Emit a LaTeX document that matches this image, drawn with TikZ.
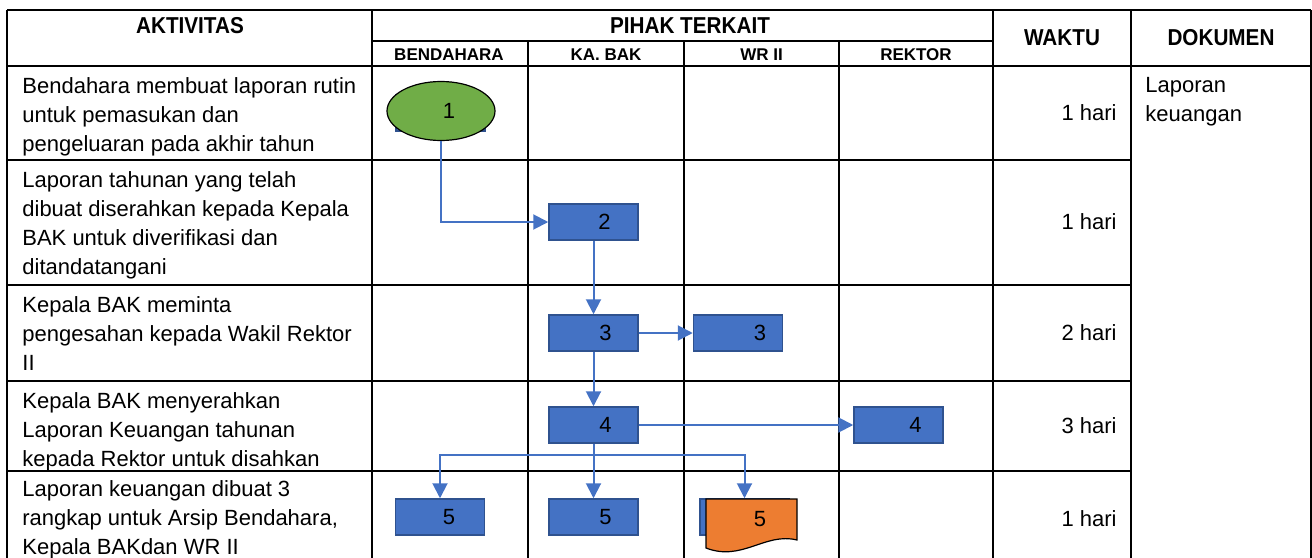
\documentclass[tikz,border=0pt]{standalone}
\usepackage{fontspec}
\setmainfont{Liberation Sans}
\newfontfamily\judul[FakeStretch=0.9]{Liberation Sans}
\usetikzlibrary{arrows.meta,shapes.geometric}
\definecolor{biru}{HTML}{4472C4}
\definecolor{birutua}{HTML}{2F528F}
\definecolor{hijau}{HTML}{70AD47}
\definecolor{oranye}{HTML}{ED7D31}
\tikzset{
  garis/.style={draw=black, line width=1pt},
  kotak/.style={rectangle, fill=biru, draw=birutua, line width=0.75pt, minimum width=44.5pt, minimum height=18pt, inner sep=0pt, font=\fontsize{11}{13}\selectfont},
  mulai/.style={ellipse, fill=hijau, draw=black, line width=0.6pt, minimum width=54pt, minimum height=29.5pt, inner sep=0pt, font=\fontsize{11}{13}\selectfont},
  alur/.style={draw=biru, line width=1pt},
  panah/.style={alur, -{Triangle[length=7.5pt,width=7.5pt]}},
  isi/.style={anchor=north west, inner sep=0pt, align=left, font=\fontsize{11}{14.5}\selectfont},
  lama/.style={anchor=east, inner sep=0pt, font=\fontsize{11}{13}\selectfont},
  kepala/.style={inner sep=0pt, font=\judul\bfseries\fontsize{11.5}{13}\selectfont},
  subkepala/.style={inner sep=0pt, font=\bfseries\fontsize{8.5}{10}\selectfont}
}
\newcommand{\geser}[2]{\hspace*{#1}#2}
\begin{document}
\begin{tikzpicture}[x=0.5pt, y=-0.5pt]
	\useasboundingbox (0,0) rectangle (1312,557);
	% garis tabel
	\draw[garis] (7,10)--(1311,10);
	\draw[garis] (372,41)--(993,41);
	\draw[garis] (7,66)--(1311,66);
	\foreach \y in {160,285,381,471}
		\draw[garis] (7,\y)--(1131,\y);
	\foreach \x in {7,372,993,1131,1311}
		\draw[garis] (\x,10)--(\x,575);
	\foreach \x in {528,684,839}
		\draw[garis] (\x,41)--(\x,575);
	% judul kolom
	\node[kepala] (hakt) at (190,26) {AKTIVITAS};
	\node[kepala] (hpih) at (690,26) {PIHAK TERKAIT};
	\node[kepala] (hwak) at (1062,38) {WAKTU};
	\node[kepala] (hdok) at (1221,38) {DOKUMEN};
	\node[subkepala] (hben) at (449,55) {BENDAHARA};
	\node[subkepala] (hkab) at (606,55) {KA. BAK};
	\node[subkepala] (hwr) at (761.5,55) {WR II};
	\node[subkepala] (hrek) at (916,55) {REKTOR};
	% aktivitas
	\node[isi] (a1) at (22,77) {Bendahara membuat laporan rutin\\untuk pemasukan dan\\pengeluaran pada akhir tahun};
	\node[isi] (a2) at (22,171) {Laporan tahunan yang telah\\dibuat diserahkan kepada Kepala\\BAK untuk diverifikasi dan\\ditandatangani};
	\node[isi] (a3) at (22,296) {Kepala BAK meminta\\pengesahan kepada Wakil Rektor\\II};
	\node[isi] (a4) at (22,392) {Kepala BAK menyerahkan\\Laporan Keuangan tahunan\\kepada Rektor untuk disahkan};
	\node[isi] (a5) at (22,480) {Laporan keuangan dibuat 3\\rangkap untuk Arsip Bendahara,\\Kepala BAKdan WR II};
	% waktu dan dokumen
	\node[lama] (w1) at (1117,113) {1 hari};
	\node[lama] (w2) at (1117,222) {1 hari};
	\node[lama] (w3) at (1117,333) {2 hari};
	\node[lama] (w4) at (1117,426) {3 hari};
	\node[lama] (w5) at (1117,519) {1 hari};
	\node[isi] (dok) at (1145,77) {Laporan\\keuangan};
	% simbol alur
	\node[kotak] (b1) at (440.5,113) {};
	\node[mulai] (e1) at (441,111) {\geser{8pt}{1}};
	\node[kotak] (b2) at (593.5,222) {\geser{11pt}{2}};
	\node[kotak] (b3a) at (593.5,333) {\geser{12pt}{3}};
	\node[kotak] (b3b) at (738,333) {\geser{22pt}{3}};
	\node[kotak] (b4a) at (593.5,425) {\geser{12pt}{4}};
	\node[kotak] (b4b) at (898.5,425) {\geser{17pt}{4}};
	\node[kotak] (b5a) at (440,517) {\geser{9pt}{5}};
	\node[kotak] (b5b) at (593.5,517) {\geser{12pt}{5}};
	\node[kotak] (b5c) at (744.5,517) {};
	\filldraw[fill=oranye, draw=black, line width=0.6pt] (706,499)--(797,499)--(797,540)
		.. controls (765,532) and (742,562) .. (706,548)--cycle;
	\node[inner sep=0pt, font=\fontsize{11}{13}\selectfont] (d5) at (760,519) {5};
	% panah
	\draw[panah] (e1.south) |- (b2.west);
	\draw[panah] (b2.south)--(b3a.north);
	\draw[panah] (b3a.east)--(b3b.west);
	\draw[panah] (b3a.south)--(b4a.north);
	\draw[panah] (b4a.east)--(b4b.west);
	\draw[panah] (b4a.south)--(b5b.north);
	\coordinate (cabang) at (593.5,455);
	\draw[panah] (cabang) -| (b5a.north);
	\draw[panah] (cabang) -| (b5c.north);
\end{tikzpicture}
\end{document}
